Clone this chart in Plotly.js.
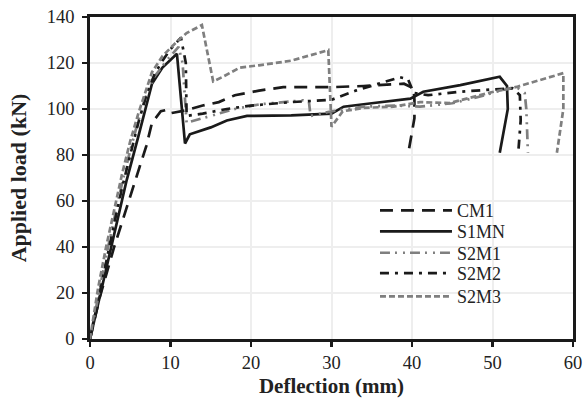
<!DOCTYPE html>
<html><head><meta charset="utf-8">
<script src="https://cdn.plot.ly/plotly-3.0.1.min.js"></script>
<style>html,body{margin:0;padding:0;background:#fff}#chart{width:585px;height:398px}</style>
</head><body><div id="chart"></div>
<script>
const seriesNames = ["CM1","S1MN","S2M1","S2M2","S2M3"];

const cm1X = [0,1.2,3,5.4,7,7.7,8.8,9.4,9.8,10.5,12,14,16,18,21,24,27,30,34,37,39,40.2,40.3,40.3,39.5];
const cm1Y = [0,18,40,66,84,94,99,99.5,98,98.5,99.5,101.5,103,106,108,109.5,109.5,109.5,110,110.5,111,109,104,96,80];

const s1mnX = [0,1,2,3,4,4.55,6,7,7.7,9,10.8,11.8,12.4,15,17,19.5,21,25,30,31.5,35,39.8,41.4,46,50.9,51.8,51.9,50.9];
const s1mnY = [0,15,30,45,60,69,88,101,111,118,124,85,89,92,95,97,97,97.2,98,101,102.5,104.5,107.5,110.4,114,110,100,81];

const s2m1X = [0,1,2,3,4,5,6,7,8,9.5,11,11.5,12,15,18,21,24,26.5,27.2,27.4,30,34,38,41,45,48,51,53,54,54.2,54.4];
const s2m1Y = [0,18,36,52,68,82,95,106,114,121,127,120,94,97,100,102,103,103.8,103,97,99,101,101.5,101,102.5,105,108,109.5,107,100,81];

const s2m2X = [0,1,2,3,4,5,6,7,8,9,10,11.3,11.9,12,14,17,20,25,30,33,36,38.5,39.5,40.2,42,46,50,52.5,53.4,53.5,53.2];
const s2m2Y = [0,17,34,50,66,80,94,106,115,121,126,131,120,97,98,100,101.5,103,104,108,111,113.8,113,107,106,107.5,108.5,109,106,95,81];

const s2m3X = [0,1,2,3,4,5,6,7.7,9,11,12,13.9,15.3,16.5,18.6,21,25,29.6,30,31.4,34,37.7,41,44.7,47,50,53,56,58.8,58.8,58];
const s2m3Y = [0,22,40,56,72,86,98,116,123,130,133,136.5,112,114,118,119,121,125.6,92.3,99,100.5,101,103,102.6,104.8,107.4,109.6,112.6,115.6,100,81];

const xTicks = [0,10,20,30,40,50,60];
const yTicks = [0,20,40,60,80,100,120,140];

const black = "#1a1a1a", gray = "#7f7f7f";
const legendIds = ["legend","legend2","legend3","legend4","legend5"];
const mk = (i, x, y, color, dash) => ({
  type: "scatter", mode: "lines", name: seriesNames[i], x, y, legend: legendIds[i],
  line: {color, width: 2.7, dash}
});
const data = [
  mk(0, cm1X, cm1Y, black, "13px,8px"),
  mk(1, s1mnX, s1mnY, black, "solid"),
  mk(2, s2m1X, s2m1Y, gray, "10px,5px,2px,6px,2px,5px"),
  mk(3, s2m2X, s2m2Y, black, "9px,6px,3px,6px"),
  mk(4, s2m3X, s2m3Y, gray, "6px,3px")
];
const serif = "Liberation Serif";
const legendRowsY = [0.3985, 0.3332, 0.267, 0.2034, 0.1314];
const legendBase = (yy) => ({x: 0.59, y: yy, xanchor: "left", yanchor: "middle",
  bgcolor: "rgba(0,0,0,0)", borderwidth: 0, itemwidth: 72,
  font: {family: serif, size: 18, color: "#222"}});
const layout = {
  width: 585, height: 398,
  margin: {l: 90, r: 12, t: 17, b: 59},
  paper_bgcolor: "#fff", plot_bgcolor: "#fff",
  font: {family: serif, size: 18, color: "#222"},
  showlegend: true,
  legend: legendBase(legendRowsY[0]),
  legend2: legendBase(legendRowsY[1]),
  legend3: legendBase(legendRowsY[2]),
  legend4: legendBase(legendRowsY[3]),
  legend5: legendBase(legendRowsY[4]),
  shapes: [{type: "rect", xref: "paper", yref: "paper", x0: 0.59, x1: 0.905, y0: 0.10, y1: 0.44,
    fillcolor: "#fff", line: {width: 0}, layer: "between"}],
  xaxis: {range: [0, 60], tickvals: xTicks, showgrid: true, gridcolor: "#eeeeee", gridwidth: 2,
    zeroline: false, showline: true, linecolor: "#1a1a1a", linewidth: 2.8, mirror: true,
    ticks: "outside", ticklen: 5, tickwidth: 2.8, tickcolor: "#1a1a1a", ticklabelstandoff: 0,
    tickfont: {family: serif, size: 18.5, color: "#222"},
    title: {text: "<b>Deflection (mm)</b>", font: {family: serif, size: 21, color: "#222"}, standoff: 10}},
  yaxis: {range: [0, 140], tickvals: yTicks, showgrid: true, gridcolor: "#eeeeee", gridwidth: 2,
    zeroline: false, showline: true, linecolor: "#1a1a1a", linewidth: 2.8, mirror: true,
    ticks: "outside", ticklen: 5, tickwidth: 2.8, tickcolor: "#1a1a1a", ticklabelstandoff: 4,
    tickfont: {family: serif, size: 18.5, color: "#222"},
    title: {text: "<b>Applied load (kN)</b>", font: {family: serif, size: 22, color: "#222"}, standoff: 14}}
};
Plotly.newPlot("chart", data, layout, {displayModeBar: false, staticPlot: true});
</script></body></html>
